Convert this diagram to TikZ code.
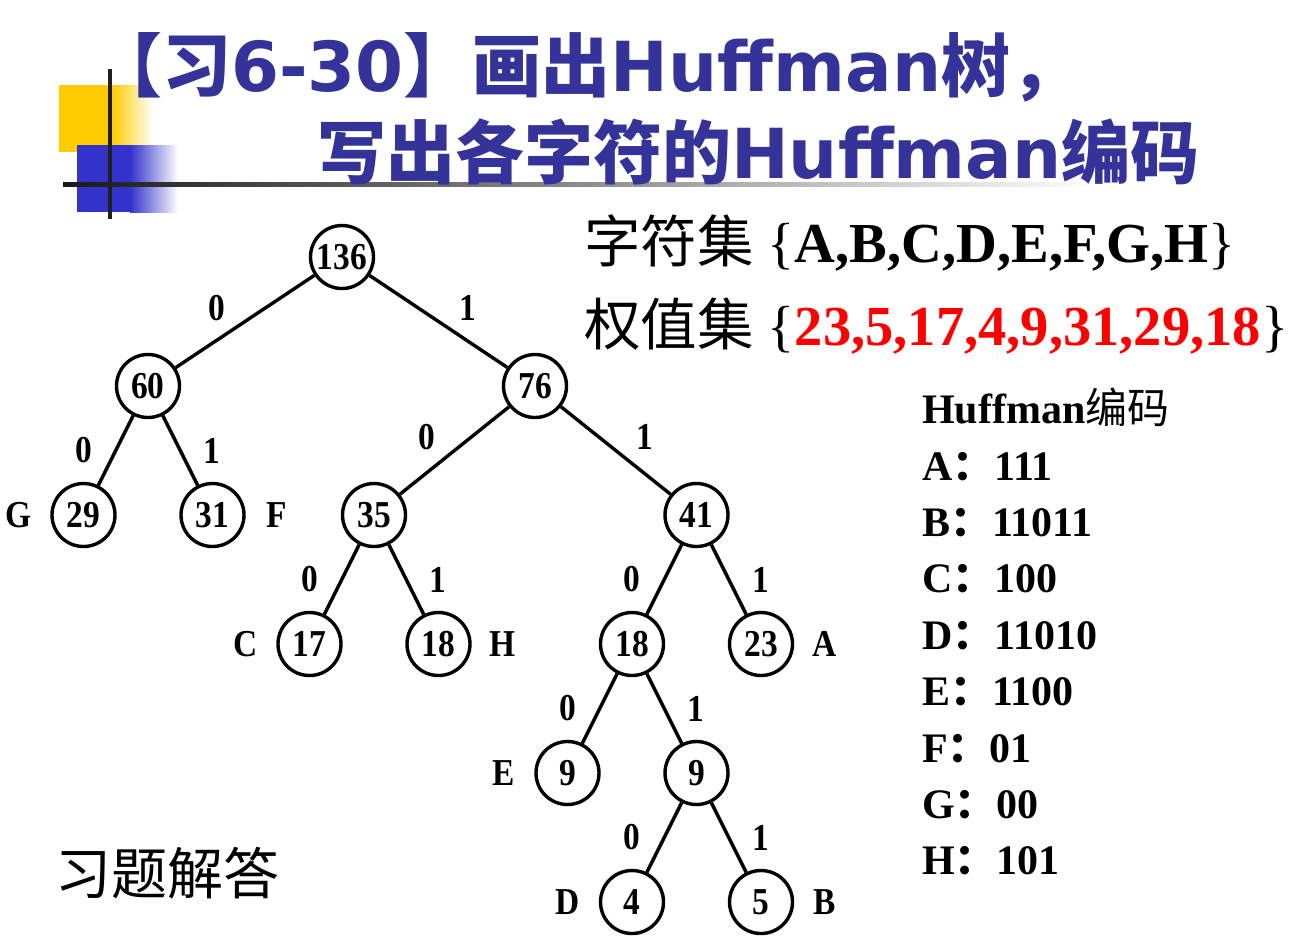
\documentclass[tikz,border=0pt]{standalone}
\usepackage{fontspec}
\setmainfont{Liberation Serif}
\newfontfamily\treefont[FakeStretch=0.88]{Liberation Serif Bold}
\newfontfamily\cjk{Noto Sans CJK SC}
\newfontfamily\ttlfont{DejaVu Sans}
\usetikzlibrary{calc,positioning}
\definecolor{ttlblue}{RGB}{51,51,153}
\definecolor{boxyel}{RGB}{255,204,0}
\definecolor{boxblue}{RGB}{51,51,204}
\definecolor{wred}{RGB}{255,0,0}

\begin{document}
\begin{tikzpicture}[x=1bp, y=-1bp, on grid, node distance=129bp and 64.5bp,
  hn/.style={circle, draw, line width=3.4bp, minimum size=63bp, inner sep=0pt, font=\treefont\fontsize{38bp}{38bp}\selectfont},
  ch/.style={inner sep=0pt, font=\treefont\fontsize{38bp}{38bp}\selectfont},
  zl/.style={ch, xshift=-32bp}, ol/.style={ch, xshift=32bp},
  zw/.style={ch, xshift=-28bp, yshift=13.5bp}, ow/.style={ch, xshift=29bp, yshift=13.5bp},
  ttl/.style={anchor=base west, inner sep=0pt, text=ttlblue, font=\cjk\bfseries\fontsize{69bp}{70bp}\selectfont},
  big/.style={anchor=base west, inner sep=0pt, font=\fontsize{56.5bp}{57bp}\selectfont},
  cd/.style={anchor=base west, inner sep=0pt, font=\bfseries\fontsize{42bp}{42bp}\selectfont}]

    \useasboundingbox (0,0) rectangle (1289,941);

    % corner marks
    \fill[boxyel] (59,85) rectangle (112,152);
    \shade[left color=boxyel, right color=white] (112,85) rectangle (153,152);
    \fill[boxblue] (77,145) rectangle (130,212);
    \shade[left color=boxblue, right color=white] (130,145) rectangle (178,212);
    \shade[left color=black!90, right color=white] (63,182) rectangle (1100,186);
    \draw[line width=4.5bp, black!88] (110,69) -- (110,219);

    \node[ttl] (ttl1) at (93,91)   {【习{\ttlfont 6-30}】画出{\ttlfont Huffman}树，};
    \node[ttl] (ttl2) at (317,178) {写出各字符的{\ttlfont Huffman}编码};

    \node[big] (chars) at (584,262) {{\cjk 字符集} \{\textbf{A,B,C,D,E,F,G,H}\}};
    \node[big] (wts)   at (584,345) {{\cjk 权值集} \{\textbf{\color{wred}23,5,17,4,9,31,29,18}\}};

    \node[big, font=\cjk\fontsize{56bp}{56bp}\selectfont] (sol) at (55,894) {习题解答};

    % tree
    \node[hn]                                         (n136) at (342,257) {136};
    \node[hn, below left  = 129bp and 194bp of n136]   (n60)  {60};
    \node[hn, below right = 129bp and 193bp of n136]   (n76)  {76};
    \node[hn, below left  = of n60]                    (n29)  {29};
    \node[hn, below right = of n60]                    (n31)  {31};
    \node[hn, below left  = 129bp and 161bp of n76]    (n35)  {35};
    \node[hn, below right = 129bp and 161.5bp of n76]  (n41)  {41};
    \node[hn, below left  = of n35]                    (n17)  {17};
    \node[hn, below right = of n35]                    (n18h) {18};
    \node[hn, below left  = of n41]                    (n18)  {18};
    \node[hn, below right = of n41]                    (n23)  {23};
    \node[hn, below left  = of n18]                    (n9e)  {9};
    \node[hn, below right = of n18]                    (n9)   {9};
    \node[hn, below left  = of n9]                     (n4)   {4};
    \node[hn, below right = of n9]                     (n5)   {5};

    \node[ch, left  = 65bp of n29]  (G) {G};
    \node[ch, right = 64bp of n31]  (F) {F};
    \node[ch, left  = 64bp of n17]  (C) {C};
    \node[ch, right = 64bp of n18h] (H) {H};
    \node[ch, right = 64bp of n23]  (A) {A};
    \node[ch, left  = 64bp of n9e]  (E) {E};
    \node[ch, left  = 64bp of n4]   (D) {D};
    \node[ch, right = 64bp of n5]   (B) {B};

    \draw[line width=3.4bp] (n136) -- node[zw]{0} (n60);
    \draw[line width=3.4bp] (n136) -- node[ow]{1} (n76);
    \draw[line width=3.4bp] (n60)  -- node[zl]{0} (n29);
    \draw[line width=3.4bp] (n60)  -- node[ol]{1} (n31);
    \draw[line width=3.4bp] (n76)  -- node[zw]{0} (n35);
    \draw[line width=3.4bp] (n76)  -- node[ow]{1} (n41);
    \draw[line width=3.4bp] (n35)  -- node[zl]{0} (n17);
    \draw[line width=3.4bp] (n35)  -- node[ol]{1} (n18h);
    \draw[line width=3.4bp] (n41)  -- node[zl]{0} (n18);
    \draw[line width=3.4bp] (n41)  -- node[ol]{1} (n23);
    \draw[line width=3.4bp] (n18)  -- node[zl]{0} (n9e);
    \draw[line width=3.4bp] (n18)  -- node[ol]{1} (n9);
    \draw[line width=3.4bp] (n9)   -- node[zl]{0} (n4);
    \draw[line width=3.4bp] (n9)   -- node[ol]{1} (n5);

    % codes
    \node[cd]                                       (hc) at (922,423) {Huffman{\cjk\mdseries 编码}};
    \node[cd]                                       (ca) at (922,480) {A{\cjk ：}111};
    \node[cd, below = 56.4bp of ca.base west, anchor=base west] (cb) {B{\cjk ：}11011};
    \node[cd, below = 56.4bp of cb.base west, anchor=base west] (cc) {C{\cjk ：}100};
    \node[cd, below = 56.4bp of cc.base west, anchor=base west] (cdd) {D{\cjk ：}11010};
    \node[cd, below = 56.4bp of cdd.base west, anchor=base west] (ce) {E{\cjk ：}1100};
    \node[cd, below = 56.4bp of ce.base west, anchor=base west] (cf) {F{\cjk ：}01};
    \node[cd, below = 56.4bp of cf.base west, anchor=base west] (cg) {G{\cjk ：}00};
    \node[cd, below = 56.4bp of cg.base west, anchor=base west] (chh) {H{\cjk ：}101};

\end{tikzpicture}
\end{document}
